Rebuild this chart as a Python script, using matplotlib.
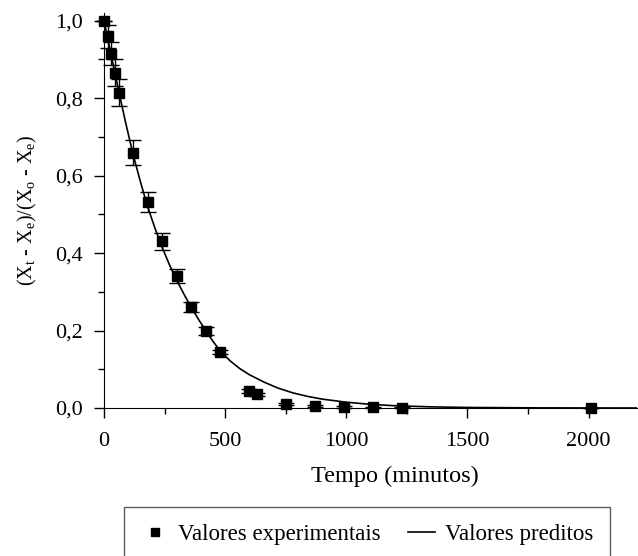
import numpy as np
import matplotlib
matplotlib.use("Agg")
import matplotlib.pyplot as plt
from matplotlib.lines import Line2D
from matplotlib.ticker import MultipleLocator, FuncFormatter

plt.rcParams['font.family'] = ['Liberation Serif', 'DejaVu Serif']
plt.rcParams['mathtext.fontset'] = 'custom'
plt.rcParams['mathtext.rm'] = 'Liberation Serif'

# experimental points (time in min, moisture ratio, error)
tempo = [0, 15, 30, 45, 60, 120, 180, 240, 300, 360, 420, 480,
         600, 630, 750, 870, 990, 1110, 1230, 2010]
razao = [1.0, 0.96, 0.915, 0.866, 0.814, 0.659, 0.532, 0.43, 0.341, 0.261,
         0.199, 0.145, 0.044, 0.036, 0.010, 0.005, 0.003, 0.002, 0.001, 0.0]
erro = [0.0, 0.03, 0.03, 0.035, 0.035, 0.032, 0.026, 0.022, 0.017, 0.014,
        0.010, 0.006, 0.004, 0.004, 0.003, 0.002, 0.002, 0.001, 0.001, 0.0]

# predicted curve
t_pred = [0, 15, 30, 45, 60, 90, 120, 150, 180, 210, 240, 270, 300, 330, 360,
          390, 420, 450, 480, 520, 560, 600, 660, 720, 780, 840, 900, 1000,
          1100, 1200, 1350, 1500, 1800, 2200]
y_pred = [1.0, 0.955, 0.91, 0.865, 0.82, 0.735, 0.655, 0.585, 0.52, 0.465,
          0.415, 0.37, 0.33, 0.294, 0.26, 0.229, 0.2, 0.172, 0.147, 0.122,
          0.102, 0.086, 0.067, 0.051, 0.039, 0.030, 0.023, 0.015, 0.0094,
          0.0059, 0.0029, 0.0014, 0.0003, 0.0]

fig = plt.figure(figsize=(6.38, 5.56), dpi=100)
ax = fig.add_axes([104/638, 1 - 408/556, 533/638, 395/556])

ax.plot(t_pred, y_pred, color='black', lw=1.2)
ax.errorbar(tempo, razao, yerr=erro, fmt='s', color='black', ms=7.5,
            ecolor='black', elinewidth=1.0, capsize=5.8, capthick=1.0,
            clip_on=False, zorder=3)

ax.set_xlim(0, 2200)
ax.set_ylim(0, 1.02)
ax.xaxis.set_major_locator(MultipleLocator(500))
ax.xaxis.set_minor_locator(MultipleLocator(250))
ax.yaxis.set_major_locator(MultipleLocator(0.2))
ax.yaxis.set_minor_locator(MultipleLocator(0.1))
ax.yaxis.set_major_formatter(FuncFormatter(lambda v, p: f"{v:.1f}".replace('.', ',')))

for s in ['top', 'right']:
    ax.spines[s].set_visible(False)
ax.tick_params(which='major', length=7, width=1, direction='out', labelsize=16)
ax.tick_params(which='minor', length=4, width=1, direction='out')
ax.tick_params(axis='x', which='major', pad=10)
ax.tick_params(axis='y', which='major', pad=8)

ax.set_xlabel('Tempo (minutos)', fontsize=17.5)
ax.xaxis.set_label_coords(0.546, -0.147)
ax.set_ylabel(r'(X$_\mathregular{t}$ - X$_\mathregular{e}$)/(X$_\mathregular{o}$ - X$_\mathregular{e}$)',
              fontsize=14.5)
ax.yaxis.set_label_coords(-0.122, 0.5)

h = [Line2D([], [], marker='s', ls='none', color='black', ms=6),
     Line2D([], [], color='black', lw=1.2)]
l = ['Valores experimentais', 'Valores preditos']
leg = fig.legend(h, l, loc='upper left', ncol=2,
                 bbox_to_anchor=(124/638, 1 - 507/556), fontsize=16.5,
                 frameon=True, fancybox=False, edgecolor='#333333',
                 borderaxespad=0, handlelength=1.2, handletextpad=0.4,
                 columnspacing=1.2, borderpad=0.75)
leg.get_frame().set_linewidth(1.0)

fig.savefig('out.png', dpi=100)
